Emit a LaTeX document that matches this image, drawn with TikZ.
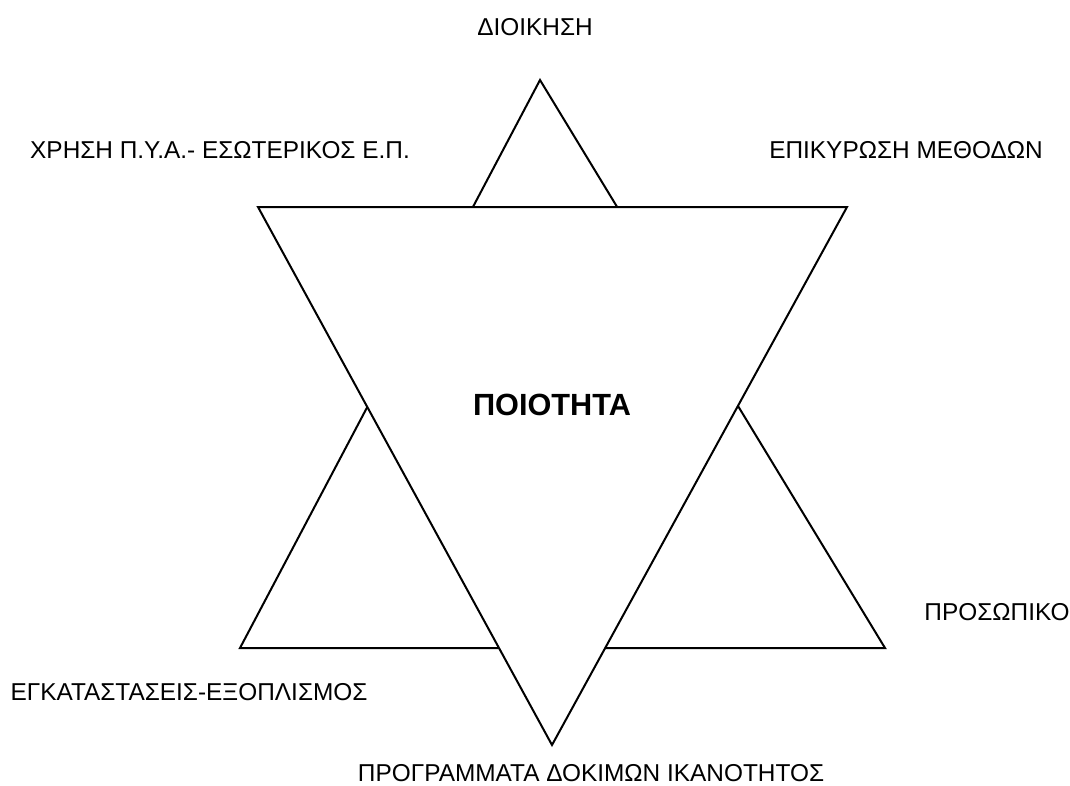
\documentclass[tikz,border=0pt]{standalone}
\usepackage{fontspec}
\setmainfont{Liberation Sans}
\usepackage{tikz}
\usetikzlibrary{positioning, calc}

\tikzset{
	edge/.style={line width=1.5pt, line join=miter},
	lbl/.style={font=\fontsize{18.3}{22}\selectfont, inner sep=0pt},
	mainlbl/.style={font=\fontsize{23}{27}\selectfont\bfseries, inner sep=0pt}
}

\begin{document}
\begin{tikzpicture}[x=0.75pt,y=-0.75pt]
	\useasboundingbox (0,0) rectangle (1070,785);
	% upward triangle
	\coordinate (U0) at (540,80);
	\coordinate (U1) at (240,648);
	\coordinate (U2) at (885,648);
	% downward triangle
	\coordinate (D0) at (258,207);
	\coordinate (D1) at (847,207);
	\coordinate (D2) at (552,745);
	\draw[edge] (U0)--(U1)--(U2)--cycle;
	\draw[edge,fill=white] (D0)--(D1)--(D2)--cycle;
	\node[mainlbl] (quality) at (552,405) {ΠΟΙΟΤΗΤΑ};
	\node[lbl] (admin) at (535,27) {ΔΙΟΙΚΗΣΗ};
	\node[lbl] (usage) at (220,150) {ΧΡΗΣΗ Π.Υ.Α.- ΕΣΩΤΕΡΙΚΟΣ Ε.Π.};
	\node[lbl] (methods) at (906,150) {ΕΠΙΚΥΡΩΣΗ ΜΕΘΟΔΩΝ};
	\node[lbl] (staff) at (997,612) {ΠΡΟΣΩΠΙΚΟ};
	\node[lbl] (equip) at (189,692) {ΕΓΚΑΤΑΣΤΑΣΕΙΣ-ΕΞΟΠΛΙΣΜΟΣ};
	\node[lbl] (tests) at (591,773) {ΠΡΟΓΡΑΜΜΑΤΑ ΔΟΚΙΜΩΝ ΙΚΑΝΟΤΗΤΟΣ};
\end{tikzpicture}
\end{document}
